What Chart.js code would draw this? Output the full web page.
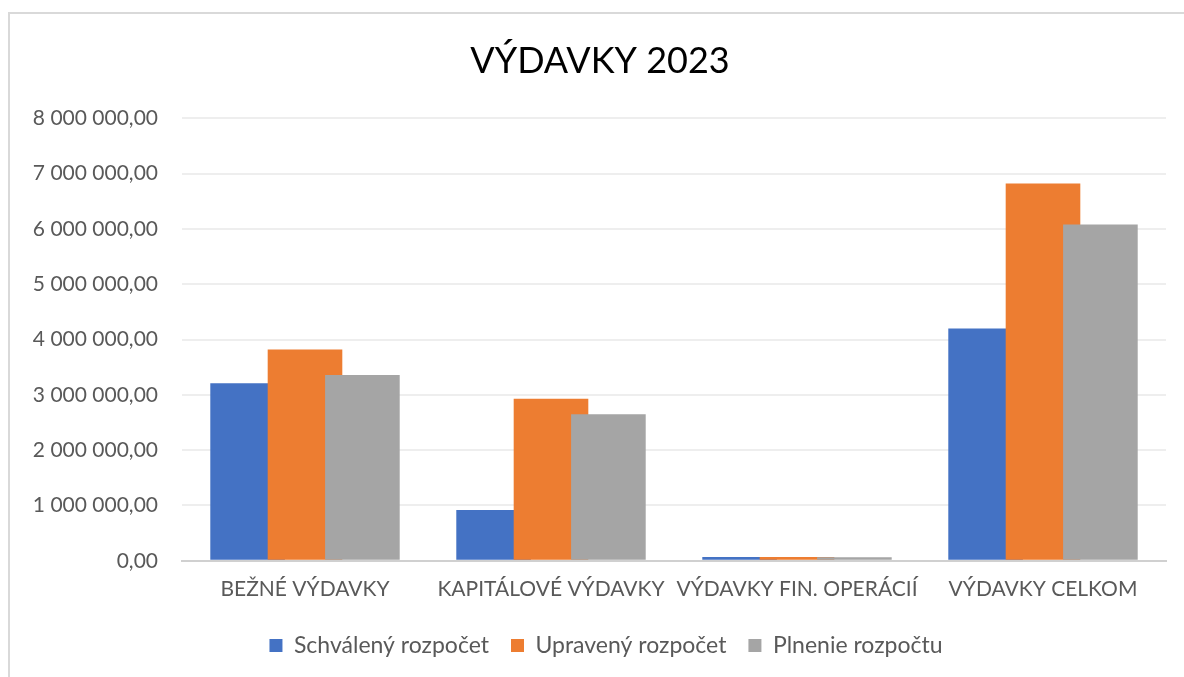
<!DOCTYPE html>
<html>
<head>
<meta charset="utf-8">
<script src="https://cdn.jsdelivr.net/npm/chart.js@4"></script>
<style>
  html, body { margin: 0; padding: 0; background: #fff; }
  #wrap { position: relative; width: 1184px; height: 677px; }
  #frame { position: absolute; left: 8px; top: 12px; right: 0; bottom: 0;
           border-left: 2px solid #d9d9d9; border-top: 2px solid #d9d9d9; pointer-events: none; }
</style>
</head>
<body>
<div id="wrap">
  <canvas id="chart"></canvas>
  <div id="frame"></div>
</div>
<script>
const categories = ['BEŽNÉ VÝDAVKY', 'KAPITÁLOVÉ VÝDAVKY', 'VÝDAVKY FIN. OPERÁCIÍ', 'VÝDAVKY CELKOM'];
const schvaleny = [3210000, 920000, 70000, 4200000];
const upraveny  = [3820000, 2930000, 70000, 6820000];
const plnenie   = [3360000, 2650000, 65000, 6080000];
const seriesNames = ['Schválený rozpočet', 'Upravený rozpočet', 'Plnenie rozpočtu'];

const FONT = 'Lato, "Open Sans", sans-serif';
const TXT = '#595959';

function fmt(v) {
    const s = Math.round(v).toString().replace(/\B(?=(\d{3})+(?!\d))/g, ' ');
    return s + ',00';
}

// Excel draws overlapping bars left to right (later series on top),
// Chart.js does the opposite, so draw them ourselves in index order
const drawInOrder = {
    id: 'drawInOrder',
    beforeDatasetsDraw(chart) {
        for (let i = 0; i < chart.data.datasets.length; i++) {
            chart.getDatasetMeta(i).controller.draw();
        }
        return false;
    }
};

// title and legend sit a bit right of the canvas centre in the original
const nudge = {
    id: 'nudge',
    afterLayout(chart) {
        const t = chart.titleBlock, l = chart.legend;
        if (t) { t.left += 17; t.right += 17; }
        if (l) { l.left += 23; l.right += 23; }
    }
};

const colors = ['#4472C4', '#ED7D31', '#A5A5A5'];
const ds = [schvaleny, upraveny, plnenie].map((d, i) => ({
    label: seriesNames[i],
    data: d,
    backgroundColor: colors[i],
    borderWidth: 0,
    categoryPercentage: 0.70,
    barPercentage: 1.3,
}));

new Chart(document.getElementById('chart'), {
    type: 'bar',
    data: { labels: categories, datasets: ds },
    plugins: [drawInOrder, nudge],
    options: {
        responsive: true,
        maintainAspectRatio: false,
        animation: false,
        layout: { padding: { left: 0, right: 18, top: 22, bottom: 10 } },
        plugins: {
            title: {
                display: true,
                text: 'VÝDAVKY 2023',
                color: '#000',
                font: { family: FONT, size: 36, weight: 'normal' },
                padding: { top: 18, bottom: 35 },
            },
            legend: {
                position: 'bottom',
                labels: {
                    color: TXT,
                    font: { family: FONT, size: 23 },
                    boxWidth: 13, boxHeight: 13,
                    padding: 22,
                },
            },
            tooltip: { enabled: false },
        },
        scales: {
            x: {
                grid: { display: false, drawTicks: false },
                border: { color: '#d0d0d0', width: 2 },
                ticks: { color: TXT, font: { family: FONT, size: 21 }, padding: 16, maxRotation: 0 },
                afterFit: s => { s.height -= 6; },
            },
            y: {
                min: 0, max: 8000000,
                ticks: { stepSize: 1000000, color: TXT, font: { family: FONT, size: 21 }, padding: 24, callback: v => fmt(v) },
                grid: { color: '#eeeeee', lineWidth: 2, drawTicks: false, tickLength: 0 },
                border: { display: false },
                afterFit: s => { s.width = 182; },
            },
        },
    },
});
</script>
</body>
</html>
